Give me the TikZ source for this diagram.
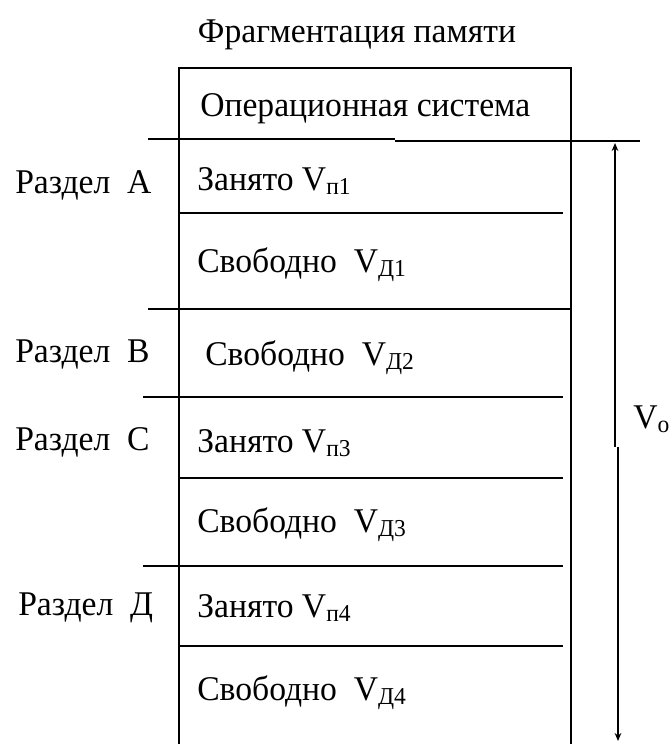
\documentclass[tikz,border=0pt]{standalone}
\usepackage{fontspec}
\setmainfont{Liberation Serif}[FakeStretch=0.97]
\usetikzlibrary{arrows.meta,positioning}
\newcommand{\Vsub}[1]{V\textsubscript{#1}}
\begin{document}
\begin{tikzpicture}[x=0.75pt,y=-0.75pt,>={Stealth[length=6pt,width=5pt]},
  font=\fontsize{26}{30}\selectfont,
  cell/.style={anchor=base west,inner sep=0pt},
  rule/.style={line width=1.1pt}]
\useasboundingbox (0,0) rectangle (670,744);
% title
\node[anchor=base,inner sep=0pt] (title) at (357,42) {Фрагментация памяти};
% memory block
\draw[rule] (179,744) |- (571,68) -- (571,744);
\draw[rule] (148,139) -- (395,139) (395,141) -- (640,141);
\draw[rule] (179,213) -- (563,213);
\draw[rule] (148,309) -- (571,309);
\draw[rule] (143,397) -- (563,397);
\draw[rule] (179,478) -- (563,478);
\draw[rule] (143,566) -- (563,566);
\draw[rule] (179,646) -- (563,646);
% cells
\node[cell] (os) at (200,116) {Операционная система};
\node[cell] (a1) at (197,190) {Занято \Vsub{п1}};
\node[cell] (a2) at (197,272) {Свободно\ \ \Vsub{Д1}};
\node[cell] (b1) at (205,365) {Свободно\ \ \Vsub{Д2}};
\node[cell] (c1) at (197,452) {Занято \Vsub{п3}};
\node[cell] (c2) at (197,532) {Свободно\ \ \Vsub{Д3}};
\node[cell] (d1) at (197,617) {Занято \Vsub{п4}};
\node[cell] (d2) at (197,700) {Свободно\ \ \Vsub{Д4}};
% partitions
\node[cell] (pa) at (15,193) {Раздел\ \ А};
\node[cell] (pb) at (15,362) {Раздел\ \ В};
\node[cell] (pc) at (15,450) {Раздел\ \ С};
\node[cell] (pd) at (18,615) {Раздел\ \ Д};
% total volume
\coordinate (vtop) at (615,143);
\coordinate (vjog) at (615,447);
\coordinate (vjog2) at (618,447);
\coordinate (vbot) at (618,741);
\draw[rule,<-] (vtop) -- (vjog);
\draw[rule,->] (vjog2) -- (vbot);
\node[cell] (vo) at (633,428) {\Vsub{o}};
\end{tikzpicture}
\end{document}
